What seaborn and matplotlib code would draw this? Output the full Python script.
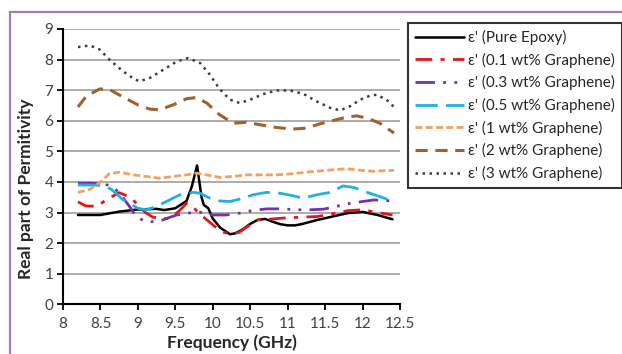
import matplotlib
matplotlib.use("Agg")
import matplotlib.pyplot as plt
from matplotlib.patches import Rectangle
import seaborn as sns
import pandas as pd

# ---------------- data ----------------
labels = ["ε' (Pure Epoxy)", "ε' (0.1 wt% Graphene)", "ε' (0.3 wt% Graphene)",
          "ε' (0.5 wt% Graphene)", "ε' (1 wt% Graphene)", "ε' (2 wt% Graphene)",
          "ε' (3 wt% Graphene)"]

f_epoxy = [8.2, 8.5, 8.75, 9.0, 9.25, 9.35, 9.5, 9.6, 9.65, 9.72, 9.79, 9.85, 9.88,
           9.94, 10.0, 10.1, 10.23, 10.3, 10.4, 10.5, 10.6, 10.7, 10.8, 10.9, 11.0,
           11.1, 11.2, 11.4, 11.6, 11.8, 12.0, 12.2, 12.4]
e_epoxy = [2.92, 2.92, 3.03, 3.1, 3.12, 3.08, 3.14, 3.3, 3.38, 3.85, 4.54, 3.5, 3.25,
           3.14, 2.8, 2.5, 2.29, 2.32, 2.45, 2.63, 2.76, 2.79, 2.7, 2.62, 2.58,
           2.58, 2.63, 2.76, 2.87, 2.98, 3.02, 2.92, 2.78]

f_01 = [8.2, 8.3, 8.45, 8.6, 8.75, 8.9, 9.0, 9.1, 9.2, 9.3, 9.43, 9.55, 9.65, 9.72,
        9.8, 9.9, 10.05, 10.15, 10.25, 10.35, 10.45, 10.6, 10.8, 11.0, 11.2, 11.4,
        11.6, 11.8, 12.0, 12.2, 12.4]
e_01 = [3.35, 3.22, 3.2, 3.45, 3.65, 3.5, 3.25, 3.0, 2.85, 2.8, 2.81, 3.05, 3.3, 3.22,
        3.02, 2.8, 2.5, 2.35, 2.3, 2.35, 2.52, 2.76, 2.79, 2.83, 2.85, 2.87,
        2.96, 3.06, 3.09, 3.0, 2.92]

f_03 = [8.2, 8.4, 8.6, 8.74, 8.89, 8.98, 9.1, 9.27, 9.4, 9.52, 9.65, 9.83, 10.0,
        10.18, 10.36, 10.54, 10.72, 10.94, 11.12, 11.3, 11.48, 11.65, 11.83, 12.0,
        12.15, 12.3, 12.42]
e_03 = [3.96, 3.96, 3.9, 3.69, 3.19, 2.87, 2.7, 2.7, 2.82, 2.92, 2.98, 3.01, 2.92,
        2.92, 2.98, 3.07, 3.12, 3.12, 3.09, 3.09, 3.11, 3.2, 3.3, 3.36,
        3.41, 3.4, 3.36]

f_05 = [8.2, 8.4, 8.55, 8.65, 8.8, 9.0, 9.11, 9.25, 9.38, 9.56, 9.74, 9.83, 9.96,
        10.09, 10.23, 10.36, 10.54, 10.72, 10.9, 11.07, 11.2, 11.39, 11.57, 11.74,
        11.88, 12.06, 12.23, 12.42]
e_05 = [3.9, 3.9, 3.88, 3.75, 3.42, 3.14, 3.09, 3.2, 3.36, 3.58, 3.66, 3.63, 3.47,
        3.38, 3.36, 3.44, 3.58, 3.66, 3.63, 3.55, 3.47, 3.58, 3.66, 3.87,
        3.82, 3.66, 3.52, 3.36]

f_1 = [8.2, 8.36, 8.49, 8.62, 8.76, 8.94, 9.11, 9.29, 9.47, 9.65, 9.78, 9.92, 10.09,
       10.27, 10.45, 10.63, 10.85, 11.07, 11.25, 11.43, 11.61, 11.79, 11.97, 12.14, 12.42]
e_1 = [3.66, 3.76, 3.98, 4.27, 4.32, 4.23, 4.18, 4.12, 4.18, 4.23, 4.29, 4.23, 4.15,
       4.18, 4.23, 4.23, 4.23, 4.27, 4.32, 4.36, 4.4, 4.43, 4.38, 4.35, 4.38]

f_2 = [8.2, 8.31, 8.49, 8.62, 8.8, 9.0, 9.16, 9.29, 9.47, 9.65, 9.78, 9.92, 10.09,
       10.27, 10.45, 10.63, 10.85, 11.07, 11.25, 11.43, 11.61, 11.79, 11.92, 12.06,
       12.23, 12.42]
e_2 = [6.45, 6.8, 7.04, 7.02, 6.78, 6.52, 6.38, 6.36, 6.52, 6.72, 6.76, 6.58, 6.2,
       5.92, 5.95, 5.87, 5.78, 5.73, 5.76, 5.9, 6.01, 6.12, 6.16, 6.09,
       5.92, 5.6]

f_3 = [8.2, 8.36, 8.49, 8.62, 8.8, 8.94, 9.02, 9.16, 9.34, 9.52, 9.67, 9.83, 9.96,
       10.09, 10.23, 10.36, 10.5, 10.67, 10.85, 11.03, 11.21, 11.39, 11.57, 11.7,
       11.83, 11.97, 12.1, 12.19, 12.32, 12.42]
e_3 = [8.41, 8.46, 8.33, 8.0, 7.62, 7.38, 7.29, 7.4, 7.67, 7.94, 8.05, 7.89, 7.51,
       7.04, 6.69, 6.58, 6.69, 6.87, 6.99, 6.99, 6.88, 6.63, 6.42, 6.34,
       6.47, 6.69, 6.82, 6.85, 6.69, 6.45]

freqs = [f_epoxy, f_01, f_03, f_05, f_1, f_2, f_3]
vals = [e_epoxy, e_01, e_03, e_05, e_1, e_2, e_3]

# ---------------- styles ----------------
colors = ["#000000", "#E3161B", "#7B2FA8", "#1FB1E3", "#F4A05C", "#A0622A", "#3C3C3C"]
styles = ["-", (0, (6, 3, 1.5, 3)), (0, (7, 3, 1, 3, 1, 3)), (0, (8, 3)),
          (0, (2.5, 1.2)), (0, (4, 2.5)), (0, (1, 1.8))]
widths = [1.8, 2.0, 2.0, 2.0, 2.0, 2.2, 1.8]

sns.set_theme(style="white")
plt.rcParams["font.family"] = ["Lato", "DejaVu Sans"]

fig = plt.figure(figsize=(6.22, 3.54), dpi=100)
ax = fig.add_axes([63 / 622, 1 - 304.3 / 354, (400 - 63) / 622, (304.3 - 29) / 354])

for lab, fx, vy, c, ls, lw in zip(labels, freqs, vals, colors, styles, widths):
    df = pd.DataFrame({"Frequency": fx, "Permittivity": vy})
    sns.lineplot(data=df, x="Frequency", y="Permittivity", ax=ax, color=c,
                 linestyle=ls, linewidth=lw, label=lab)

ax.set_xlim(8, 12.5)
ax.set_ylim(0, 9)
ax.set_xticks([8 + 0.5 * i for i in range(10)])
ax.set_xticklabels(["8", "8.5", "9", "9.5", "10", "10.5", "11", "11.5", "12", "12.5"])
ax.set_yticks(range(10))
ax.yaxis.grid(True, color="#A6A6A6", linewidth=1.3)
ax.xaxis.grid(False)
ax.set_axisbelow(True)
for s in ["top", "right"]:
    ax.spines[s].set_visible(False)
for s in ["left", "bottom"]:
    ax.spines[s].set_color("black")
    ax.spines[s].set_linewidth(1.5)
ax.tick_params(axis="both", direction="out", length=4, width=1.3, color="black",
               labelsize=11, labelcolor="#404040", pad=3)
ax.tick_params(axis="x", bottom=True, pad=5)
ax.tick_params(axis="y", left=True)

ax.set_xlabel("Frequency (GHz)", fontsize=12.5, fontweight="bold", color="#262626")
ax.xaxis.set_label_coords(0.5, (304.3 - 334) / 275.3)
ax.set_ylabel("Real part of Permitivity", fontsize=12.5, fontweight="bold",
              color="#262626")
ax.yaxis.set_label_coords((34 - 63) / 337, (304.3 - 188.5) / 275.3)

leg = ax.legend(loc="upper left", bbox_to_anchor=(408 / 622, 1 - 23 / 354),
                bbox_transform=fig.transFigure, frameon=True, fancybox=False,
                fontsize=11, handlelength=3.2, handletextpad=0.3,
                labelspacing=0.5, borderpad=0.45, borderaxespad=0)
leg.get_frame().set_edgecolor("black")
leg.get_frame().set_linewidth(1.5)
for t in leg.get_texts():
    t.set_color("#262626")

fig.patches.append(Rectangle((10 / 622, -0.2), 1.2, 1.2 - 12 / 354,
                             transform=fig.transFigure, fill=False,
                             edgecolor="#9E7DC0", linewidth=1.6, clip_on=False))

fig.savefig("out.png", dpi=100)
